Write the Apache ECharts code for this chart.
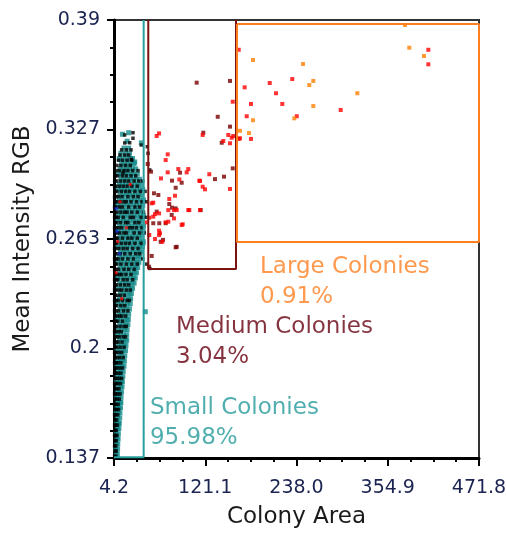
<!DOCTYPE html>
<html>
<head>
<meta charset="utf-8">
<script src="https://cdn.jsdelivr.net/npm/echarts@6/dist/echarts.min.js"></script>
<style>html,body{margin:0;padding:0;background:#fff;}#c{width:506px;height:533px;}</style>
</head>
<body>
<div id="c"></div>
<script>
// ---- axis ticks ----
const xTickValues = [4.2, 121.1, 238.0, 354.9, 471.8];
const xTickLabels = ['4.2', '121.1', '238.0', '354.9', '471.8'];
const xMinorTicks = [33.4, 62.7, 91.9, 150.3, 179.5, 208.8, 267.2, 296.4, 325.7, 384.1, 413.4, 442.6];
const yTickValues = [0.137, 0.20025, 0.2635, 0.32675, 0.39];
const yTickLabels = ['0.137', '0.2', '0.263', '0.327', '0.39'];
const yMinorTicks = [0.1528, 0.1686, 0.1844, 0.2161, 0.2319, 0.2477, 0.2793, 0.2951, 0.3109, 0.3426, 0.3584, 0.3742];

// ---- gates (x = colony area, y = mean intensity) ----
const smallGate = [[4.2, 0.1375], [42.2, 0.1375], [42.2, 0.39]];
const mediumGate = [[48.1, 0.39], [48.1, 0.2462], [160.5, 0.2462], [160.5, 0.39]];
const largeGate = [[161.8, 0.3877], [471.8, 0.3877], [471.8, 0.2618], [161.8, 0.2618], [161.8, 0.3877]];
const gateNames = ['Large Colonies', 'Medium Colonies', 'Small Colonies'];
const gatePercents = ['0.91%', '3.04%', '95.98%'];

// ---- small colonies: teal points, rows of [intensity, [areas]] ----
const tealRows = [
  [0.139, [7, 8.5]], [0.142, [6.5, 8.8]], [0.145, [7.5, 9]], [0.148, [8, 9.5]],
  [0.151, [7, 9.8]], [0.154, [8.5, 10.5]], [0.157, [7.5, 10, 11]], [0.160, [8.5, 11.5]],
  [0.163, [7, 9.5, 11.8]], [0.166, [8, 10.5, 12.5]], [0.169, [9, 12, 13]], [0.172, [7.5, 10, 13.2]],
  [0.175, [8.5, 11.5, 13.8]], [0.178, [9.5, 12.5, 14.5]], [0.181, [7.5, 10.5, 13.5, 15]],
  [0.184, [8.5, 12, 15.5]], [0.187, [10, 13, 16]], [0.190, [8, 11.5, 14.5, 17]],
  [0.193, [9, 12.5, 15.5, 17.5]], [0.196, [10.5, 14, 18]], [0.199, [8, 12, 16, 19]],
  [0.202, [9.5, 13.5, 17, 19.5]], [0.205, [11, 15, 18.5, 20.5]], [0.208, [8.5, 12.5, 16.5, 20.5]],
  [0.211, [10, 14, 18, 21]], [0.214, [11.5, 15.5, 19.5, 22]], [0.217, [9, 13, 17, 21, 22.5]],
  [0.220, [10.5, 14.5, 18.5, 23]], [0.223, [12, 16, 20, 24]], [0.226, [9.5, 13.5, 17.5, 21.5, 25]],
  [0.229, [11, 15, 19, 23, 25.5]], [0.232, [12.5, 16.5, 20.5, 24.5, 26.5]],
  [0.235, [10, 14, 18, 22, 26, 28]], [0.238, [11.5, 15.5, 19.5, 23.5, 27.5, 30]],
  [0.241, [9, 13, 17, 21, 25, 29, 31.5]], [0.244, [10.5, 14.5, 18.5, 22.5, 26.5, 30.5, 33]],
  [0.247, [12, 16, 20, 24, 28, 32, 34.5]], [0.250, [9.5, 13.5, 17.5, 21.5, 25.5, 29.5, 33.5, 36]],
  [0.253, [11, 15, 19, 23, 27, 31, 35, 37.5]], [0.256, [12.5, 16.5, 20.5, 24.5, 28.5, 32.5, 36.5, 39]],
  [0.259, [9, 13, 17, 21, 25, 29, 33, 37, 40.5]], [0.262, [10.5, 14.5, 18.5, 22.5, 26.5, 30.5, 34.5, 38.5, 41.5]],
  [0.265, [12, 16, 20, 24, 28, 32, 36, 40]], [0.268, [9.5, 13.5, 17.5, 21.5, 25.5, 29.5, 33.5, 37.5, 41.5]],
  [0.271, [11, 15, 19, 23, 27, 31, 35, 39, 42]], [0.274, [8.5, 12.5, 16.5, 20.5, 24.5, 28.5, 32.5, 36.5, 40.5]],
  [0.277, [10, 14, 18, 22, 26, 30, 34, 38, 42]], [0.280, [11.5, 15.5, 19.5, 23.5, 27.5, 31.5, 35.5, 39.5]],
  [0.283, [9, 13, 17, 21, 25, 29, 33, 37, 41]], [0.286, [10.5, 14.5, 18.5, 22.5, 26.5, 30.5, 34.5, 38.5, 42]],
  [0.289, [12, 16, 20, 24, 28, 32, 36, 40]], [0.292, [9.5, 13.5, 17.5, 21.5, 25.5, 29.5, 33.5, 37.5, 41]],
  [0.295, [11, 15, 19, 23, 27, 31, 35, 39]], [0.298, [13, 17, 21, 25, 29, 33, 37]],
  [0.301, [10, 14, 18, 22, 26, 30, 34]], [0.304, [12, 16, 20, 24, 28, 32]],
  [0.307, [14, 18, 22, 26, 30]], [0.310, [11, 16, 21, 25, 28]], [0.313, [13, 19, 24]],
  [0.316, [17, 23]], [0.320, [21]], [0.324, [15]]
];
const tealExtra = [[23, 0.3249], [39.2, 0.319], [30.7, 0.308], [17.9, 0.3024], [44.3, 0.2215], [41.4, 0.2612]];

// ---- ungated black points, rows of [intensity, [areas]] ----
const blackRows = [
  [0.138, [5, 6.5]], [0.141, [5.5, 7]], [0.144, [5, 6.5]], [0.147, [5.5, 7]], [0.150, [5, 6.5, 8]],
  [0.153, [5.5, 7]], [0.156, [5, 6.5, 8.5]], [0.159, [5.5, 7.5]], [0.162, [5, 6.5, 9]],
  [0.165, [5.5, 7.5, 10]], [0.168, [5, 7, 9.5]], [0.171, [5.5, 8, 11]], [0.174, [5, 6.5, 9, 12]],
  [0.177, [5.5, 7.5, 10.5]], [0.180, [5, 7, 9, 12.5]], [0.183, [5.5, 8, 11, 14]],
  [0.186, [5, 6.5, 9.5, 13]], [0.189, [5.5, 7.5, 11, 15]], [0.192, [5, 7, 9, 13]],
  [0.195, [5.5, 8, 11.5, 16]], [0.198, [5, 6.5, 10, 14]], [0.201, [5.5, 7.5, 12, 17]],
  [0.204, [5, 7, 9.5, 14.5]], [0.207, [5.5, 8, 11, 16, 19]], [0.210, [5, 6.5, 10, 13.5]],
  [0.213, [5.5, 7.5, 12, 17, 20]], [0.216, [5, 7, 9, 15]], [0.219, [5.5, 8, 11.5, 14, 19]],
  [0.222, [5, 6.5, 10, 16.5, 22]], [0.225, [5.5, 7.5, 13, 18]], [0.228, [5, 7, 9.5, 15, 21, 24]],
  [0.231, [5.5, 8, 12, 17.5]], [0.234, [5, 6.5, 10.5, 14, 20, 25]], [0.237, [5.5, 7.5, 12.5, 18, 23]],
  [0.240, [5, 7, 9, 16, 21, 28]], [0.243, [5.5, 8, 11.5, 14, 19.5, 26]],
  [0.246, [5, 6.5, 10, 17, 23, 30]], [0.249, [5.5, 7.5, 13, 20, 27, 34]],
  [0.252, [5, 7, 9.5, 15, 22, 29]], [0.255, [5.5, 8, 12, 18, 25, 32, 37]],
  [0.258, [5, 6.5, 10.5, 16, 21, 28, 35]], [0.261, [5.5, 7.5, 13.5, 19, 24, 31, 39]],
  [0.264, [5, 7, 9, 15, 22, 27, 34]], [0.267, [5.5, 8, 11.5, 17, 20, 30, 37, 43]],
  [0.270, [5, 6.5, 10, 14, 24, 28, 33, 40]], [0.273, [5.5, 7.5, 12.5, 19, 22, 31, 36]],
  [0.276, [5, 7, 9.5, 16, 25, 29, 39, 45]], [0.279, [5.5, 8, 13, 18, 21, 27, 34, 42]],
  [0.282, [5, 6.5, 11, 15, 23, 31, 37]], [0.285, [5.5, 7.5, 12, 17, 20, 26, 33, 40, 46]],
  [0.288, [5, 7, 10, 14.5, 22, 29, 35]], [0.291, [5.5, 8, 13.5, 19, 24, 31, 38, 44]],
  [0.294, [5, 6.5, 11, 16, 21, 27, 34]], [0.297, [5.5, 7.5, 12.5, 18, 23, 30, 36, 41]],
  [0.300, [6, 9, 15, 20, 26, 32]], [0.303, [7, 11, 17, 22, 28, 35]], [0.306, [8, 13, 19, 25]],
  [0.309, [10, 15, 21, 27]], [0.312, [12, 18, 23]], [0.315, [14, 20, 26]], [0.319, [18]]
];
const blackExtra = [[17.9, 0.3236], [28.5, 0.3249], [28.5, 0.3217], [24.3, 0.3191], [26.4, 0.3095],
  [15.7, 0.3018], [39.2, 0.3178], [46.9, 0.3168], [47.8, 0.313], [50, 0.3034], [50, 0.2465], [46, 0.249], [41, 0.252]];

// ---- stray points inside the small gate ----
const strayRed = [[12, 0.285], [20, 0.27], [9, 0.262], [25, 0.295], [14, 0.229], [7, 0.244]];
const strayBlue = [[8, 0.268], [11, 0.255], [7, 0.281]];

// ---- medium colonies ----
const darkRedPoints = [[152.8, 0.3548], [110.1, 0.3538], [137.1, 0.3341], [142.2, 0.3191], [156.3, 0.3043],
  [133.6, 0.2981], [145.1, 0.2995], [118.6, 0.3249], [152.8, 0.3284], [78.5, 0.2972], [90.9, 0.296],
  [83.2, 0.2931], [88.8, 0.3018], [61, 0.2889], [55.4, 0.2899], [75, 0.2837], [78.5, 0.2816],
  [83.2, 0.2812], [58.9, 0.2793], [62.2, 0.2726], [115.3, 0.2802], [70.4, 0.2726], [64, 0.2619],
  [83.2, 0.2587], [52.5, 0.2537], [47.4, 0.3068], [51.6, 0.3024], [78.1, 0.2774], [84.5, 0.259],
  [54.5, 0.2726], [49, 0.2475], [67, 0.263]];
const redPoints = [[156.3, 0.3428], [150.6, 0.3236], [157, 0.323], [117.8, 0.3236], [126.3, 0.3009],
  [114.4, 0.297], [120.8, 0.2922], [152.8, 0.2924], [61.9, 0.3245], [58.9, 0.323], [73, 0.3124],
  [70.4, 0.3091], [73, 0.302], [86.6, 0.3039], [99.4, 0.3039], [97.3, 0.302], [64.4, 0.2985],
  [87.9, 0.2979], [113.5, 0.2972], [117.8, 0.2937], [82.3, 0.2885], [52.5, 0.2841], [75, 0.2866],
  [81.1, 0.2802], [99.4, 0.2802], [56.7, 0.2779], [49.4, 0.2758], [54.5, 0.2764], [81.1, 0.2754],
  [70.4, 0.2731], [92.2, 0.272], [46.1, 0.2731], [61.9, 0.2683], [61.9, 0.2658], [49.4, 0.2658],
  [56.7, 0.2635], [152.8, 0.3188], [155, 0.322], [144.2, 0.3201], [54.5, 0.2845], [73.8, 0.2802],
  [84.5, 0.2802], [100.7, 0.2802], [114.4, 0.2802], [61.9, 0.2783], [73.8, 0.2735], [90.9, 0.2716],
  [63.1, 0.2668], [66.1, 0.2619],
  // large gate red points
  [406.9, 0.3728], [406.9, 0.3644], [164, 0.3728], [232.6, 0.3559], [203.7, 0.3536], [171.6, 0.3511],
  [211.7, 0.3477], [179.7, 0.3415], [219.8, 0.3415], [174.2, 0.3344], [238.3, 0.3344], [294.6, 0.338],
  [179.7, 0.3213], [164, 0.3213], [165.6, 0.3217]];
// ---- large colonies ----
const orangePoints = [[377, 0.3871], [382.5, 0.374], [401.3, 0.3692], [182.3, 0.3669], [246.3, 0.3646],
  [259.5, 0.3548], [254.4, 0.3524], [315.9, 0.3477], [259.5, 0.3403], [182.3, 0.3321], [235.2, 0.3332],
  [165.6, 0.326], [177.1, 0.3247]];

function rowsToPoints(rows) {
  const out = [];
  rows.forEach(function (r) { r[1].forEach(function (x) { out.push([x, r[0]]); }); });
  return out;
}

const FONT = 'DejaVu Sans';
const chart = echarts.init(document.getElementById('c'), null, { renderer: 'canvas' });

function pointSeries(data, color, size) {
  return {
    type: 'scatter', data: data, symbol: 'rect', symbolSize: size || 4,
    itemStyle: { color: color }, silent: true, animation: false, z: 2
  };
}
function gateSeries(data, color) {
  return {
    type: 'line', data: data, showSymbol: false, symbol: 'none',
    lineStyle: { color: color, width: 2 }, silent: true, animation: false, z: 5, clip: false
  };
}
function labelSeries(x, y, idx, color) {
  return {
    type: 'scatter', symbolSize: 0, silent: true, animation: false, z: 6,
    data: [[x, y]],
    label: {
      show: true, position: 'right', distance: 0,
      formatter: gateNames[idx] + '\n' + gatePercents[idx],
      color: color, fontFamily: FONT, fontSize: 23, lineHeight: 30, align: 'left'
    }
  };
}

const option = {
  animation: false,
  backgroundColor: '#fff',
  grid: { left: 114, right: 27, top: 20, bottom: 75, show: true, borderColor: '#333', borderWidth: 2, outerBoundsMode: 'none', containLabel: false },
  xAxis: [{
    type: 'value', min: 4.2, max: 471.8,
    name: 'Colony Area', nameLocation: 'middle', nameGap: 48,
    nameTextStyle: { fontFamily: FONT, fontSize: 23, color: '#1a1a1a' },
    axisLine: { show: true, onZero: false, lineStyle: { color: '#000', width: 3 } },
    axisTick: { show: true, length: 8, inside: false, customValues: xTickValues, lineStyle: { color: '#000', width: 2 } },
    axisLabel: {
      show: true, customValues: xTickValues, margin: 21, fontFamily: FONT, fontSize: 19, color: '#1b2350',
      formatter: function (v) { const i = xTickValues.indexOf(v); return i >= 0 ? xTickLabels[i] : ''; }
    },
    splitLine: { show: false }
  }, {
    type: 'value', min: 4.2, max: 471.8, position: 'bottom',
    axisLine: { show: false }, axisLabel: { show: false }, splitLine: { show: false },
    axisTick: { show: true, length: 4, customValues: xMinorTicks, lineStyle: { color: '#000', width: 2 } }
  }],
  yAxis: [{
    type: 'value', min: 0.137, max: 0.39,
    name: 'Mean Intensity RGB', nameLocation: 'middle', nameGap: 71, nameRotate: 90,
    nameTextStyle: { fontFamily: FONT, fontSize: 23, color: '#1a1a1a' },
    axisLine: { show: true, onZero: false, lineStyle: { color: '#000', width: 3 } },
    axisTick: { show: true, length: 7, customValues: yTickValues, lineStyle: { color: '#000', width: 2 } },
    axisLabel: {
      show: true, customValues: yTickValues, margin: 14, fontFamily: FONT, fontSize: 19, color: '#1b2350',
      formatter: function (v) { const i = yTickValues.indexOf(v); return i >= 0 ? yTickLabels[i] : ''; }
    },
    splitLine: { show: false }
  }, {
    type: 'value', min: 0.137, max: 0.39, position: 'left',
    axisLine: { show: false }, axisLabel: { show: false }, splitLine: { show: false },
    axisTick: { show: true, length: 4, customValues: yMinorTicks, lineStyle: { color: '#000', width: 2 } }
  }],
  series: [
    pointSeries(rowsToPoints(tealRows).concat(tealExtra), '#138a8a', 5),
    pointSeries(rowsToPoints(blackRows).concat(blackExtra), '#000000', 3.5),
    pointSeries(strayRed, '#ff0000', 3),
    pointSeries(strayBlue, '#1030e0', 3),
    pointSeries(darkRedPoints, '#7a0000'),
    pointSeries(redPoints, '#ff0000'),
    pointSeries(orangePoints, '#ff8000'),
    gateSeries(smallGate, '#2a9e9e'),
    gateSeries(mediumGate, '#7a1212'),
    gateSeries(largeGate, '#ff7f1f'),
    labelSeries(191.2, 0.2389, 0, '#ff8020'),
    labelSeries(83.6, 0.2037, 1, '#680010'),
    labelSeries(50.3, 0.1572, 2, '#259a9a')
  ]
};
chart.setOption(option);
</script>
</body>
</html>
